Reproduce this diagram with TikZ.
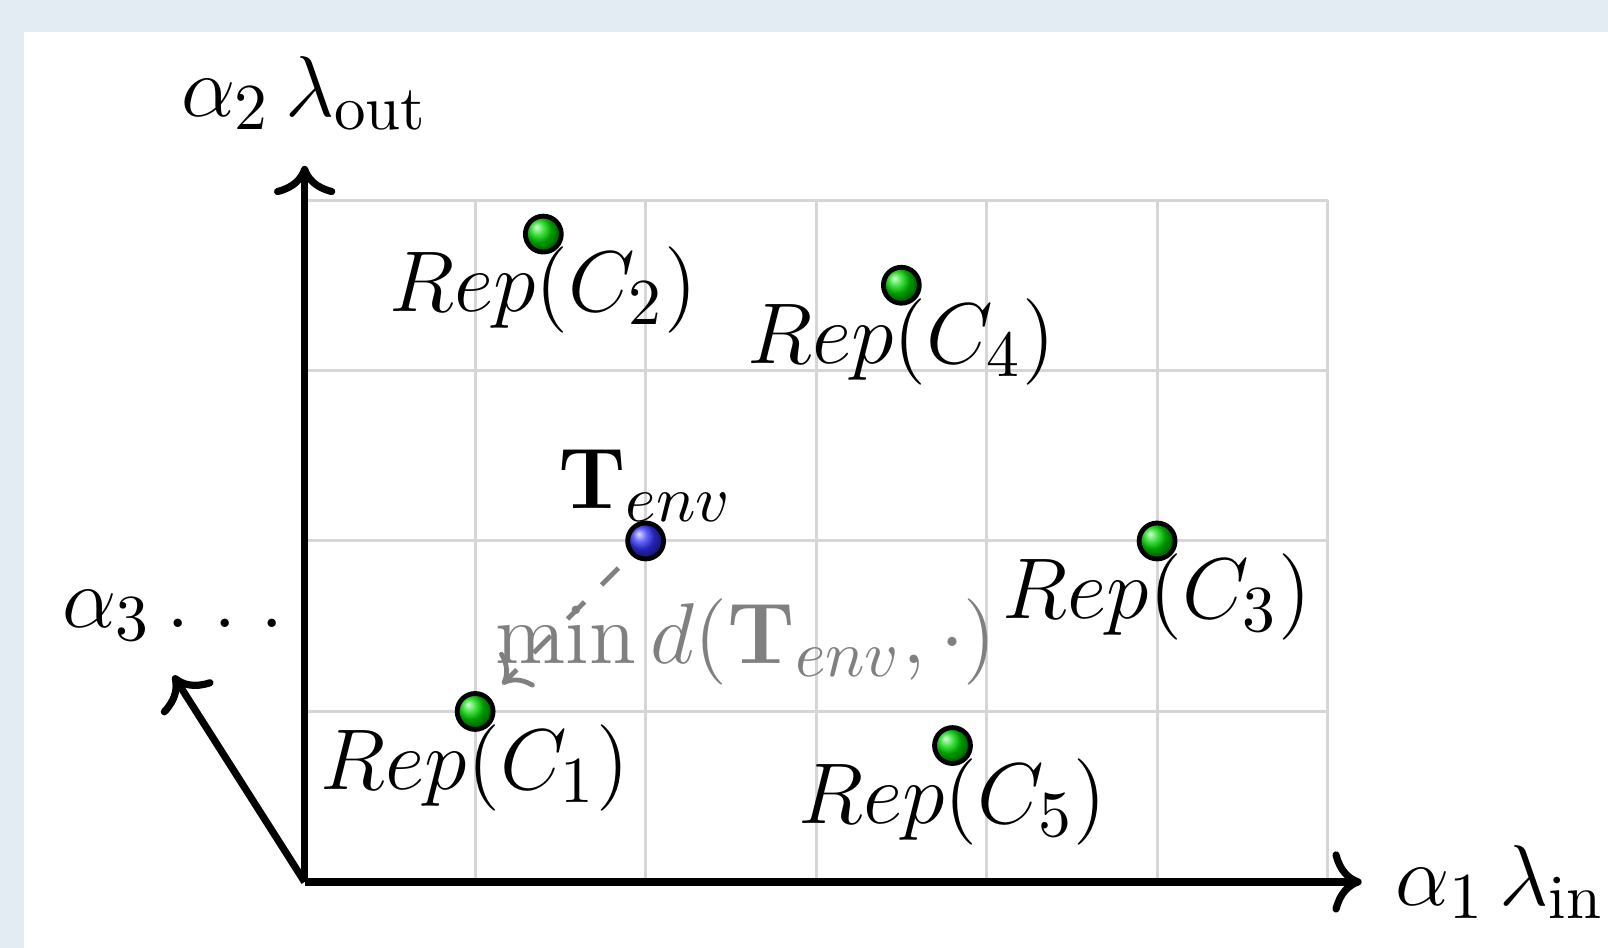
\documentclass[tikz,border=0pt]{standalone}
\usepackage{amsmath,amssymb}
\usepackage{tikz}
\usetikzlibrary{calc,arrows.meta}
\definecolor{pagebg}{RGB}{228,236,243}

\begin{document}
\begin{tikzpicture}[>={Computer Modern Rightarrow[scale=1.15]},line join=round,
    font=\fontsize{15}{18}\selectfont,
    repdot/.style={circle,draw=black,thick,shading=ball,ball color=green!85!black,
      inner sep=0pt,minimum size=6pt},
    replab/.style={below,inner sep=2pt}]
  % page behind, white panel on top
  \fill[pagebg] (-1.787,-0.387) rectangle (7.645,5.173);
  \fill[white] (-1.646,-0.387) rectangle (7.645,4.985);
  \useasboundingbox (-1.787,-0.387) rectangle (7.645,5.173);
  % light grid
  \draw[black!16,line width=0.5pt] (0,0) grid (6,4);
  % the three axes
  \coordinate (O) at (0,0);
  \draw[->,very thick] (O) -- (6.2,0) coordinate (xend)
    node[right,xshift=1.7pt] (xlab) {$\alpha_1\,\lambda_{\text{in}}$};
  \draw[->,very thick] (O) -- (0,4.2) coordinate (yend)
    node[above=2pt] (ylab) {$\alpha_2\,\lambda_{\text{out}}$};
  \draw[->,very thick] (O) -- (-0.77,1.21) coordinate (zend)
    node[above=2pt] (zlab) {$\alpha_3\,.\;.\;.$};
  % cluster representatives
  \foreach \i/\x/\y in {1/1/1,2/1.4/3.8,3/5/2,4/3.5/3.5,5/3.8/0.8}{
    \node[repdot] (c\i) at (\x,\y) {};
    \node[replab] (r\i) at (c\i.center) {$Rep(C_{\i})$};
  }
  % environment task
  \node[repdot,ball color=blue!80!white] (tenv) at (2,2) {};
  \node[above,inner sep=3pt] (tlab) at (tenv.center) {$\mathbf{T}_{env}$};
  % nearest representative
  \draw[->,gray,thick,dash pattern=on 4pt off 4pt,shorten <=3pt,shorten >=3pt] (tenv) -- (c1);
  \node[gray] (mind) at (2.59,1.41) {$\min d(\mathbf{T}_{env},\cdot)$};
\end{tikzpicture}
\end{document}
